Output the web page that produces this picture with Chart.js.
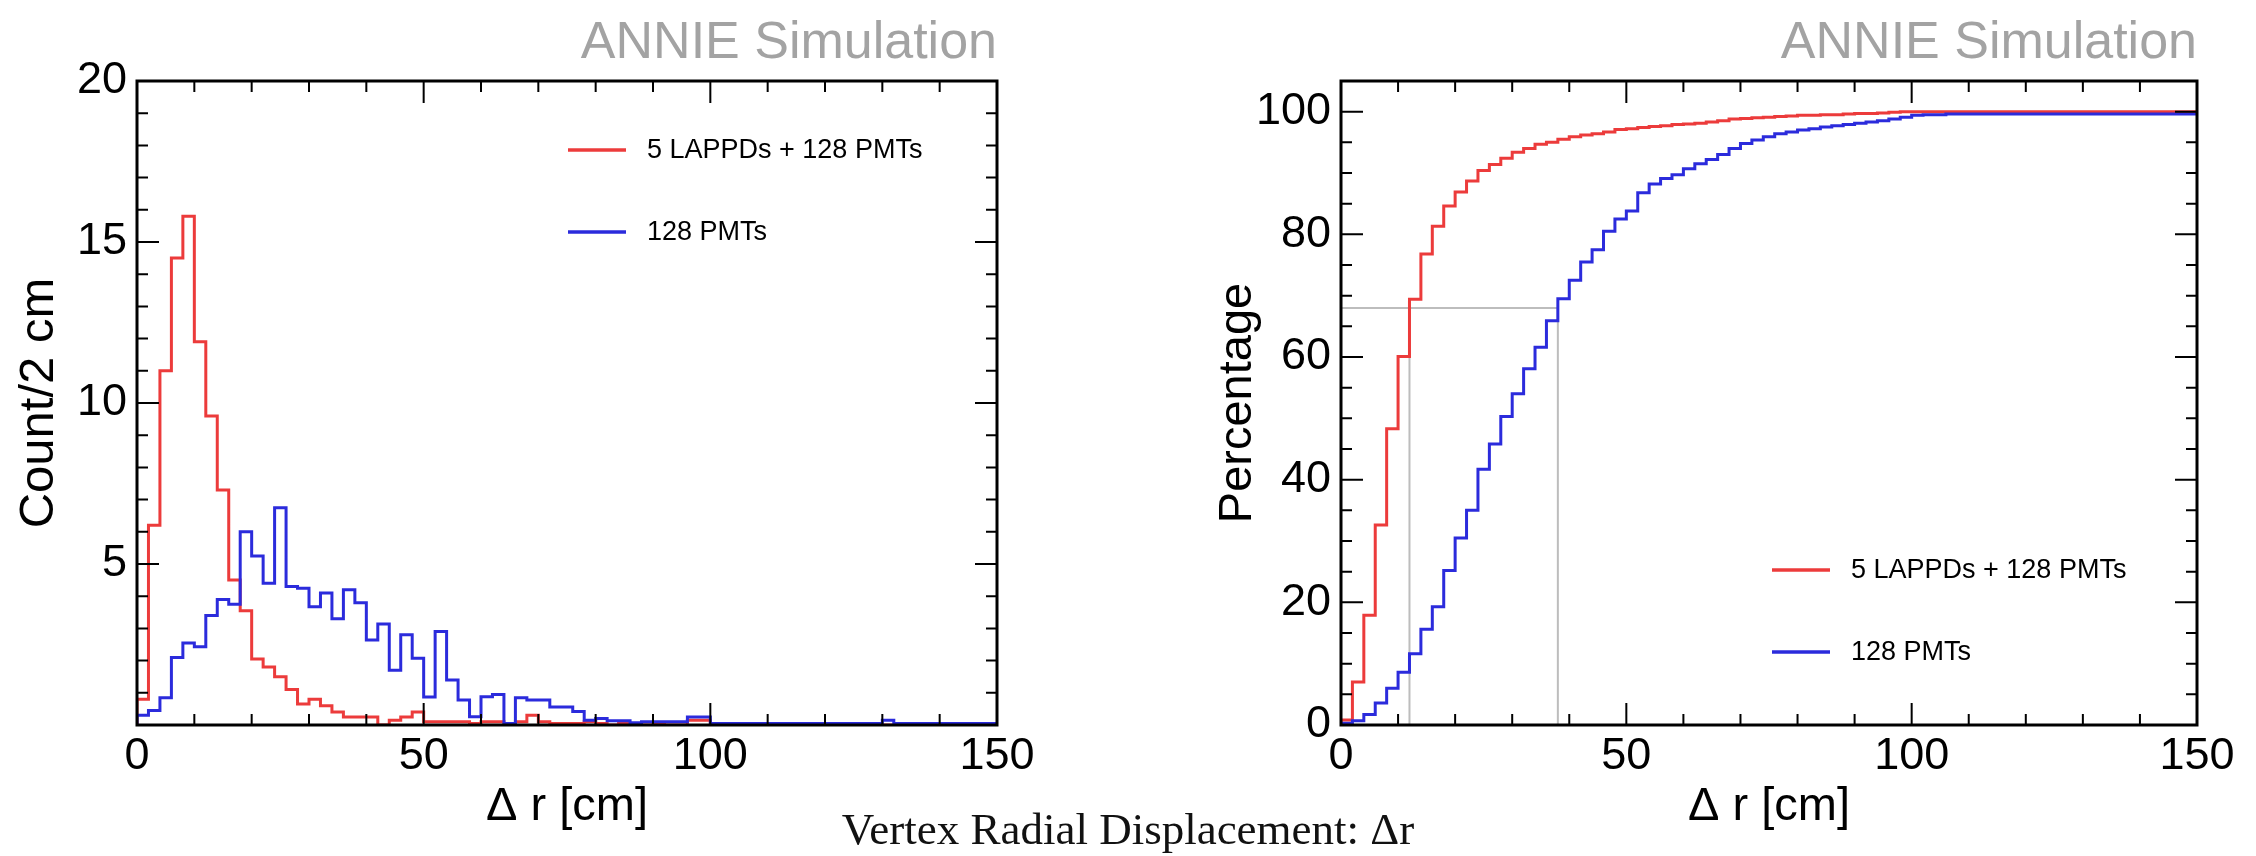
<!DOCTYPE html>
<html>
<head>
<meta charset="utf-8">
<script src="https://cdn.jsdelivr.net/npm/chart.js@4.4.1/dist/chart.umd.min.js"></script>
<style>
  html, body { margin: 0; padding: 0; background: #fff; width: 2256px; height: 856px; overflow: hidden; }
  #left { position: absolute; left: 0; top: 0; }
  #right { position: absolute; left: 1150px; top: 0; }
  #caption { position: absolute; left: 0; top: 807px; width: 2256px; text-align: center;
             font-family: "Liberation Serif", "DejaVu Serif", serif; font-size: 45px; line-height: 45px; color: #111; }
</style>
</head>
<body>
<canvas id="left" width="1040" height="856"></canvas>
<canvas id="right" width="1090" height="856"></canvas>
<div id="caption">Vertex Radial Displacement: Δr</div>
<script>
// ---------------- data ----------------
const binWidthCm = 2;
const seriesNames = ['5 LAPPDs + 128 PMTs', '128 PMTs'];

// Left panel: counts per 2 cm bin, 0-150 cm (75 bins)
const countsLAPPD = [
  0.8, 6.2, 11.0, 14.5, 15.8, 11.9, 9.6, 7.3, 4.5, 3.55,
  2.05, 1.8, 1.5, 1.1, 0.65, 0.8, 0.6, 0.4, 0.25, 0.25,
  0.25, 0.0, 0.15, 0.25, 0.4, 0.1, 0.1, 0.1, 0.1, 0.05,
  0.1, 0.1, 0.05, 0.1, 0.3, 0.1, 0.05, 0.05, 0.05, 0.1,
  0.05, 0.0, 0.05, 0.0, 0.0, 0.05, 0.0, 0.0, 0.15, 0.15,
  0, 0, 0, 0, 0, 0, 0, 0, 0, 0,
  0, 0, 0, 0, 0, 0, 0, 0, 0, 0,
  0, 0, 0, 0, 0
];
const countsPMT = [
  0.3, 0.45, 0.85, 2.1, 2.55, 2.43, 3.4, 3.9, 3.75, 6.0,
  5.25, 4.4, 6.75, 4.3, 4.25, 3.67, 4.1, 3.3, 4.2, 3.8,
  2.64, 3.14, 1.7, 2.8, 2.07, 0.87, 2.9, 1.4, 0.78, 0.26,
  0.88, 0.95, 0.05, 0.85, 0.78, 0.78, 0.56, 0.56, 0.42, 0.15,
  0.2, 0.13, 0.13, 0.07, 0.1, 0.1, 0.1, 0.1, 0.25, 0.25,
  0.05, 0.05, 0.05, 0.05, 0.05, 0.05, 0.05, 0.05, 0.05, 0.05,
  0.05, 0.05, 0.05, 0.05, 0.05, 0.15, 0.05, 0.05, 0.05, 0.05,
  0.05, 0.05, 0.05, 0.05, 0.05
];

// Right panel: cumulative percentage per 2 cm bin (75 bins)
const cumLAPPD = [
  0.8, 7.0, 17.9, 32.6, 48.3, 60.1, 69.4, 76.8, 81.3, 84.6,
  86.9, 88.7, 90.4, 91.4, 92.4, 93.4, 94.0, 94.7, 95.0, 95.5,
  95.9, 96.2, 96.4, 96.7, 97.1, 97.2, 97.4, 97.6, 97.7, 97.9,
  98.0, 98.1, 98.3, 98.5, 98.8, 98.9, 99.0, 99.1, 99.2, 99.3,
  99.4, 99.4, 99.5, 99.5, 99.6, 99.7, 99.7, 99.8, 99.9, 100,
  100, 100, 100, 100, 100, 100, 100, 100, 100, 100,
  100, 100, 100, 100, 100, 100, 100, 100, 100, 100,
  100, 100, 100, 100, 100
];
const cumPMT = [
  0.3, 0.7, 1.7, 3.6, 6.0, 8.6, 11.6, 15.6, 19.3, 25.2,
  30.5, 35.0, 41.7, 45.8, 50.3, 54.0, 58.1, 61.6, 65.9, 69.5,
  72.5, 75.5, 77.5, 80.5, 82.5, 83.8, 86.8, 88.2, 89.1, 89.7,
  90.7, 91.5, 92.2, 93.0, 94.0, 94.8, 95.4, 95.9, 96.4, 96.7,
  97.0, 97.2, 97.5, 97.7, 97.9, 98.1, 98.3, 98.5, 98.8, 99.1,
  99.4, 99.5, 99.5, 99.6, 99.6, 99.6, 99.6, 99.6, 99.6, 99.6,
  99.6, 99.6, 99.6, 99.6, 99.6, 99.6, 99.6, 99.6, 99.6, 99.6,
  99.6, 99.6, 99.6, 99.6, 99.6
];

// 68% reference lines on the right panel
const refPercent = 68;
const refCutsCm = [12, 38];

// tick labels
const xTickLabels = [0, 50, 100, 150];
const yTicksCount = [5, 10, 15, 20];
const yTicksPercent = [0, 20, 40, 60, 80, 100];

// ---------------- styling ----------------
const RED = '#ec3b3b';
const BLUE = '#2b2bdc';
const GREY = '#bdbdbd';
Chart.defaults.font.family = '"Liberation Sans", Arial, Helvetica, sans-serif';
Chart.defaults.color = '#000';

function toSteps(values) {
  const pts = [{ x: 0, y: 0 }];
  values.forEach((v, i) => pts.push({ x: i * binWidthCm, y: v }));
  pts.push({ x: values.length * binWidthCm, y: values[values.length - 1] });
  return pts;
}

const rootFrame = {
  id: 'rootFrame',
  afterDatasetsDraw(chart, args, o) {
    const { ctx, chartArea: a, scales: { x, y } } = chart;
    const isMajor = (v, m) => Math.abs(v / m - Math.round(v / m)) < 1e-6;
    ctx.save();
    ctx.strokeStyle = '#000';
    ctx.lineWidth = 2;
    ctx.beginPath();
    for (let v = x.min; v <= x.max + 1e-9; v += o.xMinor) {
      const p = x.getPixelForValue(v);
      const len = isMajor(v, o.xMajor) ? o.major : o.minor;
      ctx.moveTo(p, a.bottom); ctx.lineTo(p, a.bottom - len);
      ctx.moveTo(p, a.top); ctx.lineTo(p, a.top + len);
    }
    for (let v = y.min; v <= y.max + 1e-9; v += o.yMinor) {
      const p = y.getPixelForValue(v);
      const len = isMajor(v, o.yMajor) ? o.major : o.minor;
      ctx.moveTo(a.left, p); ctx.lineTo(a.left + len, p);
      ctx.moveTo(a.right, p); ctx.lineTo(a.right - len, p);
    }
    ctx.stroke();
    ctx.lineWidth = 3;
    ctx.strokeRect(a.left, a.top, a.right - a.left, a.bottom - a.top);
    ctx.restore();
  }
};

const insetLegend = {
  id: 'insetLegend',
  afterDraw(chart, args, o) {
    const { ctx, chartArea: a } = chart;
    const items = chart.data.datasets.filter(d => d.label);
    ctx.save();
    items.forEach((d, i) => {
      const yy = a.top + o.top + i * o.gap;
      ctx.strokeStyle = d.borderColor;
      ctx.lineWidth = 3.5;
      ctx.beginPath();
      ctx.moveTo(a.left + o.lineX0, yy);
      ctx.lineTo(a.left + o.lineX1, yy);
      ctx.stroke();
      ctx.fillStyle = '#000';
      ctx.font = o.font;
      ctx.textBaseline = 'middle';
      ctx.textAlign = 'left';
      ctx.fillText(d.label, a.left + o.textX, yy + 1);
    });
    ctx.restore();
  }
};

function makeChart(canvas, cfg) {
  return new Chart(canvas, {
    type: 'line',
    data: { datasets: cfg.datasets },
    plugins: [rootFrame, insetLegend],
    options: {
      responsive: false,
      animation: false,
      devicePixelRatio: 1,
      layout: { padding: { top: 0, right: 43, bottom: 0, left: 0 } },
      elements: { point: { radius: 0 }, line: { tension: 0 } },
      scales: {
        x: {
          type: 'linear', min: 0, max: 150,
          grid: { display: false, drawTicks: false, tickLength: 0 },
          border: { display: false },
          afterBuildTicks: s => { s.ticks = xTickLabels.map(v => ({ value: v })); },
          afterFit: s => { s.height = 131; },
          ticks: { autoSkip: false, maxRotation: 0, padding: 5, color: '#000',
                   font: { size: 45, lineHeight: 1.2 } },
          title: { display: true, text: 'Δ r [cm]', color: '#000',
                   font: { size: 47, lineHeight: 1.2 }, padding: { top: 0, bottom: 21 } }
        },
        y: {
          type: 'linear', min: 0, max: cfg.yMax,
          grid: { display: false, drawTicks: false, tickLength: 0 },
          border: { display: false },
          afterBuildTicks: s => { s.ticks = cfg.yTicks.map(v => ({ value: v })); },
          afterFit: s => { s.width = cfg.yAxisWidth; },
          ticks: { autoSkip: false, padding: 10, color: '#000',
                   font: { size: 45, lineHeight: 1.2 } },
          title: { display: true, text: cfg.yTitle, color: '#000',
                   font: { size: cfg.yTitleSize, lineHeight: 1.2 }, padding: { top: cfg.yTitlePad, bottom: 0 } }
        }
      },
      plugins: {
        legend: { display: false },
        tooltip: { enabled: false },
        title: { display: true, text: 'ANNIE Simulation', align: 'end', color: '#a3a3a3',
                 font: { size: 52, weight: 'normal', lineHeight: 1.2 }, padding: { top: 12, bottom: 6.6 } },
        rootFrame: { xMinor: 10, xMajor: 50, yMinor: cfg.yMinor, yMajor: cfg.yMajor, major: 22, minor: 11 },
        insetLegend: { top: cfg.legendTop, gap: 82, lineX0: 431, lineX1: 489, textX: 510,
                       font: '27px "Liberation Sans", Arial, sans-serif' }
      }
    }
  });
}

// Left: histogram
makeChart(document.getElementById('left'), {
  yMax: 20, yTicks: yTicksCount, yMinor: 1, yMajor: 5,
  yTitle: 'Count/2 cm', yTitleSize: 49, yTitlePad: 10, yAxisWidth: 137, legendTop: 69,
  datasets: [
    { label: seriesNames[0], data: toSteps(countsLAPPD), stepped: true, borderColor: RED, borderWidth: 3, order: 2 },
    { label: seriesNames[1], data: toSteps(countsPMT), stepped: true, borderColor: BLUE, borderWidth: 3, order: 1 }
  ]
});

// Right: cumulative percentage with 68% reference lines
const refDatasets = [
  { data: [{ x: 0, y: refPercent }, { x: refCutsCm[refCutsCm.length - 1], y: refPercent }] },
  ...refCutsCm.map(c => ({ data: [{ x: c, y: 0 }, { x: c, y: refPercent }] }))
].map(d => Object.assign(d, { borderColor: GREY, borderWidth: 2, order: 5 }));

makeChart(document.getElementById('right'), {
  yMax: 105, yTicks: yTicksPercent, yMinor: 5, yMajor: 20,
  yTitle: 'Percentage', yTitleSize: 47, yTitlePad: 60, yAxisWidth: 191, legendTop: 489,
  datasets: [
    { label: seriesNames[0], data: toSteps(cumLAPPD), stepped: true, borderColor: RED, borderWidth: 3, order: 2 },
    { label: seriesNames[1], data: toSteps(cumPMT), stepped: true, borderColor: BLUE, borderWidth: 3, order: 1 },
    ...refDatasets
  ]
});
</script>
</body>
</html>
